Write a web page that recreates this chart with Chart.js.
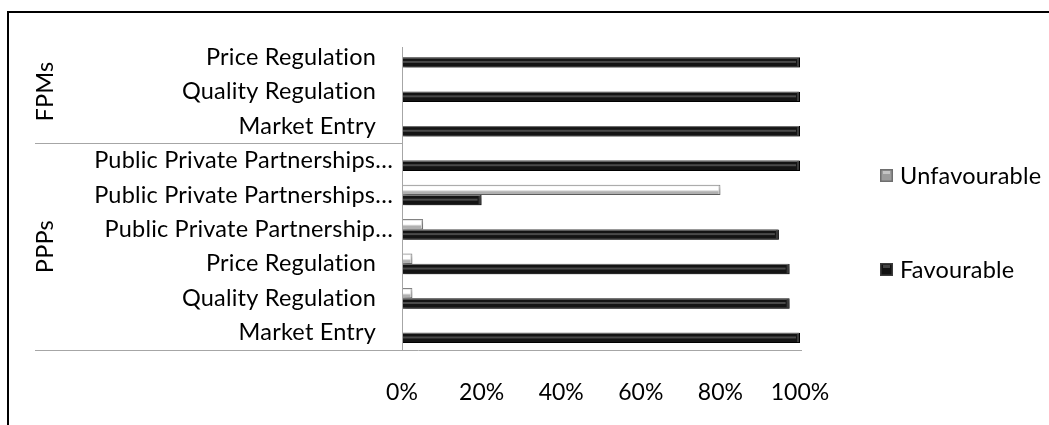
<!DOCTYPE html>
<html><head><meta charset="utf-8">
<script src="https://cdn.jsdelivr.net/npm/chart.js@4.4.1/dist/chart.umd.min.js"></script>
<style>
html,body{margin:0;padding:0;background:#fff;overflow:hidden;}
#wrap{position:relative;width:1049px;height:425px;overflow:hidden;}
#frame{position:absolute;left:7px;top:11px;width:1100px;height:500px;border-top:2px solid #000;border-left:2px solid #000;pointer-events:none;}
canvas{display:block}
</style></head><body>
<div id="wrap"><canvas id="c" width="1049" height="425"></canvas><div id="frame"></div></div>
<script>
const categories = ["Price Regulation","Quality Regulation","Market Entry","Public Private Partnerships…","Public Private Partnerships…","Public Private Partnership…","Price Regulation","Quality Regulation","Market Entry"];
const groups = ["FPMs","PPPs"];
const groupSizes = [3,6];
const unfavourable = [0,0,0,0,80,5.3,2.6,2.6,0];
const favourable = [100,100,100,100,20,94.7,97.4,97.4,100];
const xTicks = [0,20,40,60,80,100];

const FONT_FAMILY = "Lato, 'Open Sans', sans-serif";
const FONT_SIZE = 23;
const LABEL_SIZE = 23.5;
const fontStr = LABEL_SIZE + "px " + FONT_FAMILY;

const decor = {
  id: 'decor',
  beforeDatasetsDraw(chart) {
    const ctx = chart.ctx;
    ctx.save();
    ctx.shadowColor = 'rgba(0,0,0,0.35)';
    ctx.shadowBlur = 4;
    ctx.shadowOffsetX = 2;
    ctx.shadowOffsetY = 3;
  },
  afterDatasetsDraw(chart) {
    const ctx = chart.ctx;
    ctx.restore();
    const ca = chart.chartArea;
    const ys = chart.scales.y;
    // bar highlights
    chart.data.datasets.forEach((ds, di) => {
      const meta = chart.getDatasetMeta(di);
      meta.data.forEach(el => {
        const p = el.getProps(['x','y','base','height'], true);
        const w = p.x - p.base;
        if (w < 2) return;
        const h = p.height;
        if (di === 1) {
          ctx.fillStyle = '#7a7a7a';
          ctx.fillRect(p.base, p.y - h/2, w - 1, 1);
          ctx.fillStyle = '#4a4a4a';
          ctx.fillRect(p.base + 1, p.y - 1.5, w - 5, 2);
          ctx.fillStyle = '#3a3a3a';
          ctx.fillRect(p.x - 3, p.y - h/2 + 1, 2, h - 2);
        } else {
          ctx.fillStyle = '#ffffff';
          ctx.fillRect(p.base + 1, p.y - h/2 + 1.5, w - 3, h/2 - 1);
          ctx.fillStyle = '#b0b0b0';
          ctx.fillRect(p.base + 1, p.y + 1.5, w - 3, h/2 - 2.5);
        }
      });
    });
    // category labels
    const n = categories.length;
    const band = (ys.bottom - ys.top) / n;
    ctx.save();
    ctx.font = fontStr;
    try { ctx.letterSpacing = '0.2px'; } catch (e) {}
    ctx.fillStyle = '#000';
    ctx.textBaseline = 'middle';
    ctx.textAlign = 'right';
    categories.forEach((lab, i) => {
      const yp = ys.getPixelForValue(i);
      const xr = lab.endsWith('…') ? ca.left - 9 : ca.left - 26;
      ctx.fillText(lab, xr, yp);
    });
    // lines
    ctx.strokeStyle = '#a6a6a6';
    ctx.lineWidth = 1;
    ctx.beginPath();
    ctx.moveTo(ca.left + 0.5, ys.top + 7);
    ctx.lineTo(ca.left + 0.5, ys.bottom);
    let start = 0;
    groupSizes.forEach((sz, gi) => {
      const yBot = ys.top + (start + sz) * band;
      const yy = Math.round(yBot) + 0.5;
      ctx.moveTo(35, yy);
      ctx.lineTo(gi === groupSizes.length - 1 ? ca.right + 2 : ca.left, yy);
      start += sz;
    });
    ctx.stroke();
    // group labels
    start = 0;
    groupSizes.forEach((sz, gi) => {
      const yc = ys.top + (start + sz / 2) * band;
      ctx.save();
      ctx.translate(45, yc);
      ctx.rotate(-Math.PI / 2);
      ctx.textAlign = 'center';
      ctx.textBaseline = 'middle';
      ctx.fillText(groups[gi], 0, 0);
      ctx.restore();
      start += sz;
    });
    // legend
    const legendY = [176, 270];
    const boxFill = ['#9c9c9c', '#111111'];
    const boxEdge = ['#6e6e6e', '#3c3c3c'];
    ctx.textAlign = 'left';
    chart.data.datasets.forEach((ds, di) => {
      const cy = legendY[di];
      const bx = 880, by = cy - 7, bs = 13;
      ctx.fillStyle = boxEdge[di];
      ctx.fillRect(bx, by, bs, bs);
      ctx.fillStyle = boxFill[di];
      ctx.fillRect(bx + 1.5, by + 1.5, bs - 3, bs - 3);
      ctx.fillStyle = di === 0 ? '#c4c4c4' : '#444';
      ctx.fillRect(bx + 3, by + 2, bs - 6, 3);
      ctx.fillStyle = '#000';
      ctx.fillText(ds.label, 900, cy);
    });
    ctx.restore();
  }
};

new Chart(document.getElementById('c'), {
  type: 'bar',
  data: {
    labels: categories,
    datasets: [
      { label: 'Unfavourable', data: unfavourable, backgroundColor: '#d6d6d6', borderColor: '#858585',
        borderWidth: ctx => (ctx.raw ? 1 : 0), borderSkipped: false },
      { label: 'Favourable', data: favourable, backgroundColor: '#141414', borderColor: '#000000',
        borderWidth: 1, borderSkipped: false }
    ]
  },
  options: {
    indexAxis: 'y',
    responsive: false,
    animation: false,
    categoryPercentage: 0.6,
    barPercentage: 1.0,
    layout: { padding: { left: 0, right: 249, top: 40, bottom: 0 } },
    scales: {
      x: {
        min: 0, max: 100,
        afterBuildTicks: s => { s.ticks = xTicks.map(v => ({ value: v })); },
        ticks: { callback: v => v + '%', font: { family: FONT_FAMILY, size: FONT_SIZE }, color: '#000', padding: 29, maxRotation: 0 },
        grid: { display: false, drawTicks: false },
        border: { display: false },
        afterFit: s => { s.height = 75; }
      },
      y: {
        ticks: { display: false },
        grid: { display: false, drawTicks: false },
        border: { display: false },
        afterFit: s => { s.width = 402; }
      }
    },
    plugins: { legend: { display: false }, tooltip: { enabled: false } }
  },
  plugins: [decor]
});
</script>
</body></html>
